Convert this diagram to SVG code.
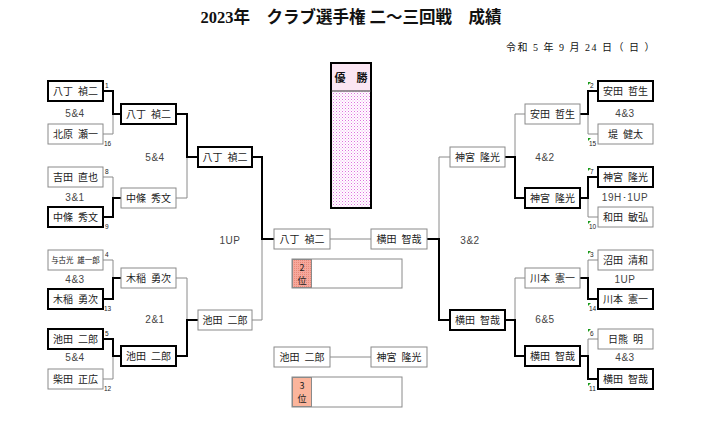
<svg xmlns="http://www.w3.org/2000/svg" width="702" height="428" viewBox="0 0 702 428">
<style>
.b{fill:#fff;stroke:#8a8a8a;stroke-width:1}
.bk{fill:#fff;stroke:#000;stroke-width:2}
.n{font-family:"Noto Sans CJK JP",sans-serif;font-size:10px;fill:#222;text-anchor:middle}
.s{font-family:"Liberation Sans",sans-serif;font-size:10px;fill:#444;text-anchor:middle;letter-spacing:0.5px}
.sd{font-family:"Liberation Sans",sans-serif;font-size:6.5px;fill:#222}
.thin{stroke:#8a8a8a;stroke-width:1;fill:none}
.thick{stroke:#000;stroke-width:2;fill:none}
.g{fill:#1a9a1a}
.t{font-family:"Liberation Serif","Noto Sans CJK JP",serif;font-weight:bold;font-size:16.5px;fill:#111;text-anchor:middle}
.d{font-family:"Liberation Serif","Noto Sans CJK JP",serif;font-size:10px;letter-spacing:1.5px;fill:#111;text-anchor:end}
.pl{font-family:"Noto Sans CJK JP",sans-serif;font-size:9px;fill:#222;text-anchor:middle}
</style>
<defs>
<pattern id="dots" width="3" height="3" patternUnits="userSpaceOnUse">
<rect width="3" height="3" fill="#fff"/>
<rect width="1" height="1" fill="#e070e0"/>
<rect x="1.5" y="1.5" width="1" height="1" fill="#f0a0f0"/>
</pattern>
<pattern id="sal" width="2" height="2" patternUnits="userSpaceOnUse">
<rect width="2" height="2" fill="#f6a89c"/>
<rect width="1" height="1" fill="#e88878"/>
</pattern>
</defs>
<rect width="702" height="428" fill="#fff"/>
<text class="t" x="351" y="23">2023年　クラブ選手権 二～三回戦　成績</text>
<text class="d" x="656" y="51">令和 5 年 9 月 24 日（ 日 ）</text>

<g id="connectors">
<path class="thin" d="M103,134H113V114"/>
<path class="thick" d="M103,91H113V114H121"/>
<path class="thin" d="M103,177H113V198"/>
<path class="thick" d="M103,217H113V198H121"/>
<path class="thin" d="M103,260H113V278"/>
<path class="thick" d="M103,299H113V278H121"/>
<path class="thin" d="M103,379H113V356"/>
<path class="thick" d="M103,339H113V356H121"/>
<path class="thin" d="M176,198H187V157"/>
<path class="thick" d="M176,114H187V157H198"/>
<path class="thin" d="M176,278H187V320"/>
<path class="thick" d="M176,356H187V320H198"/>
<path class="thin" d="M252,320H262V239"/>
<path class="thick" d="M252,157H262V239H274"/>
<path class="thin" d="M330,239H371"/>
<path class="thin" d="M330,357H371"/>
<path class="thin" d="M450,157H439V239"/>
<path class="thick" d="M450,320H439V239H427"/>
<path class="thin" d="M525,114H515V157"/>
<path class="thick" d="M525,198H515V157H505"/>
<path class="thin" d="M525,278H515V320"/>
<path class="thick" d="M525,356H515V320H505"/>
<path class="thin" d="M598,134H588V114"/>
<path class="thick" d="M598,91H588V114H580"/>
<path class="thin" d="M598,217H588V198"/>
<path class="thick" d="M598,177H588V198H580"/>
<path class="thin" d="M598,260H588V278"/>
<path class="thick" d="M598,299H588V278H580"/>
<path class="thin" d="M598,339H588V356"/>
<path class="thick" d="M598,379H588V356H580"/>
</g>

<g id="L1a"><rect class="bk" x="48" y="81" width="55" height="20"/><text class="n" x="75.5" y="95">八丁&#8194;禎二</text><text class="sd" x="105" y="88">1</text></g>
<g id="L1b"><rect class="b" x="48" y="124" width="55" height="20"/><text class="n" x="75.5" y="138">北原&#8194;瀬一</text><text class="sd" x="104" y="146">16</text></g>
<g id="L1c"><rect class="b" x="48" y="167" width="55" height="20"/><text class="n" x="75.5" y="181">吉田&#8194;直也</text><text class="sd" x="105" y="174">8</text></g>
<g id="L1d"><rect class="bk" x="48" y="207" width="55" height="20"/><text class="n" x="75.5" y="221">中條&#8194;秀文</text><text class="sd" x="105" y="229">9</text></g>
<g id="L1e"><rect class="b" x="48" y="250" width="55" height="20"/><text class="n" x="75.5" y="263" style="font-size:7.5px">与古光&#8194;雄一郎</text><text class="sd" x="105" y="257">4</text></g>
<g id="L1f"><rect class="bk" x="48" y="289" width="55" height="20"/><text class="n" x="75.5" y="303">木稲&#8194;勇次</text><text class="sd" x="104" y="311">13</text></g>
<g id="L1g"><rect class="bk" x="48" y="329" width="55" height="20"/><text class="n" x="75.5" y="343">池田&#8194;二郎</text><text class="sd" x="105" y="336">5</text></g>
<g id="L1h"><rect class="b" x="48" y="369" width="55" height="20"/><text class="n" x="75.5" y="383">柴田&#8194;正広</text><text class="sd" x="104" y="391">12</text></g>

<g id="L2a"><rect class="bk" x="121" y="104" width="55" height="20"/><text class="n" x="148.5" y="118">八丁&#8194;禎二</text></g>
<g id="L2b"><rect class="b" x="121" y="188" width="55" height="20"/><text class="n" x="148.5" y="202">中條&#8194;秀文</text></g>
<g id="L2c"><rect class="b" x="121" y="268" width="55" height="20"/><text class="n" x="148.5" y="282">木稲&#8194;勇次</text></g>
<g id="L2d"><rect class="bk" x="121" y="346" width="55" height="20"/><text class="n" x="148.5" y="360">池田&#8194;二郎</text></g>

<g id="L3a"><rect class="bk" x="198" y="147" width="54" height="20"/><text class="n" x="225" y="161">八丁&#8194;禎二</text></g>
<g id="L3b"><rect class="b" x="198" y="310" width="54" height="20"/><text class="n" x="225" y="324">池田&#8194;二郎</text></g>

<g id="F1"><rect class="b" x="274" y="229" width="56" height="20"/><text class="n" x="302" y="243">八丁&#8194;禎二</text></g>
<g id="F2"><rect class="b" x="371" y="229" width="56" height="20"/><text class="n" x="399" y="243">横田&#8194;智哉</text></g>
<g id="T1"><rect class="b" x="274" y="347" width="56" height="20"/><text class="n" x="302" y="361">池田&#8194;二郎</text></g>
<g id="T2"><rect class="b" x="371" y="347" width="56" height="20"/><text class="n" x="399" y="361">神宮&#8194;隆光</text></g>

<g id="R3a"><rect class="b" x="450" y="147" width="55" height="20"/><text class="n" x="477.5" y="161">神宮&#8194;隆光</text></g>
<g id="R3b"><rect class="bk" x="450" y="310" width="55" height="20"/><text class="n" x="477.5" y="324">横田&#8194;智哉</text></g>

<g id="R2a"><rect class="b" x="525" y="104" width="55" height="20"/><text class="n" x="552.5" y="118">安田&#8194;哲生</text></g>
<g id="R2b"><rect class="bk" x="525" y="188" width="55" height="20"/><text class="n" x="552.5" y="202">神宮&#8194;隆光</text></g>
<g id="R2c"><rect class="b" x="525" y="268" width="55" height="20"/><text class="n" x="552.5" y="282">川本&#8194;憲一</text></g>
<g id="R2d"><rect class="bk" x="525" y="346" width="55" height="20"/><text class="n" x="552.5" y="360">横田&#8194;智哉</text></g>

<g id="R1a"><rect class="bk" x="598" y="81" width="55" height="20"/><text class="n" x="625.5" y="95">安田&#8194;哲生</text><polygon class="g" points="588,82 591,82 588,85"/><text class="sd" x="590" y="88">2</text></g>
<g id="R1b"><rect class="b" x="598" y="124" width="55" height="20"/><text class="n" x="625.5" y="138">堤&#8194;健太</text><polygon class="g" points="588,138 591,138 588,141"/><text class="sd" x="589" y="146">15</text></g>
<g id="R1c"><rect class="bk" x="598" y="167" width="55" height="20"/><text class="n" x="625.5" y="181">神宮&#8194;隆光</text><polygon class="g" points="588,168 591,168 588,171"/><text class="sd" x="590" y="174">7</text></g>
<g id="R1d"><rect class="b" x="598" y="207" width="55" height="20"/><text class="n" x="625.5" y="221">和田&#8194;敏弘</text><polygon class="g" points="588,221 591,221 588,224"/><text class="sd" x="589" y="229">10</text></g>
<g id="R1e"><rect class="b" x="598" y="250" width="55" height="20"/><text class="n" x="625.5" y="264">沼田&#8194;清和</text><polygon class="g" points="588,251 591,251 588,254"/><text class="sd" x="590" y="257">3</text></g>
<g id="R1f"><rect class="bk" x="598" y="289" width="55" height="20"/><text class="n" x="625.5" y="303">川本&#8194;憲一</text><polygon class="g" points="588,303 591,303 588,306"/><text class="sd" x="589" y="311">14</text></g>
<g id="R1g"><rect class="b" x="598" y="329" width="55" height="20"/><text class="n" x="625.5" y="343">日熊&#8194;明</text><polygon class="g" points="588,329 591,329 588,332"/><text class="sd" x="590" y="336">6</text></g>
<g id="R1h"><rect class="bk" x="598" y="369" width="55" height="20"/><text class="n" x="625.5" y="383">横田&#8194;智哉</text><polygon class="g" points="588,383 591,383 588,386"/><text class="sd" x="589" y="391">11</text></g>

<g id="scores">
<text class="s" x="75" y="117">5&amp;4</text>
<text class="s" x="75" y="201">3&amp;1</text>
<text class="s" x="75" y="283">4&amp;3</text>
<text class="s" x="75" y="361">5&amp;4</text>
<text class="s" x="155" y="161">5&amp;4</text>
<text class="s" x="155" y="323">2&amp;1</text>
<text class="s" x="230" y="244">1UP</text>
<text class="s" x="470" y="244">3&amp;2</text>
<text class="s" x="545" y="161">4&amp;2</text>
<text class="s" x="545" y="323">6&amp;5</text>
<text class="s" x="625" y="117">4&amp;3</text>
<text class="s" x="625" y="201">19H･1UP</text>
<text class="s" x="625" y="283">1UP</text>
<text class="s" x="625" y="361">4&amp;3</text>
</g>

<g id="winner">
<rect x="331" y="63" width="40" height="145" fill="url(#dots)" stroke="#000" stroke-width="2"/>
<rect x="332" y="64" width="38" height="27" fill="#fbe6f3"/>
<line x1="331" y1="91" x2="371" y2="91" stroke="#333" stroke-width="1"/>
<text x="351" y="82" style="font-family:'Noto Sans CJK JP',sans-serif;font-size:11px;font-weight:bold;fill:#111;text-anchor:middle">優　勝</text>
</g>
<g id="second">
<rect class="b" x="292" y="259" width="110" height="29"/>
<rect x="292.5" y="259.5" width="19" height="28" fill="url(#sal)" stroke="#8a8a8a"/>
<text class="pl" x="302" y="271">2</text><text class="pl" x="302" y="284">位</text>
</g>
<g id="third">
<rect class="b" x="292" y="377" width="110" height="30"/>
<rect x="292.5" y="377.5" width="19" height="29" fill="#fbb59c" stroke="#8a8a8a"/>
<text class="pl" x="302" y="389">3</text><text class="pl" x="302" y="402">位</text>
</g>
</svg>
